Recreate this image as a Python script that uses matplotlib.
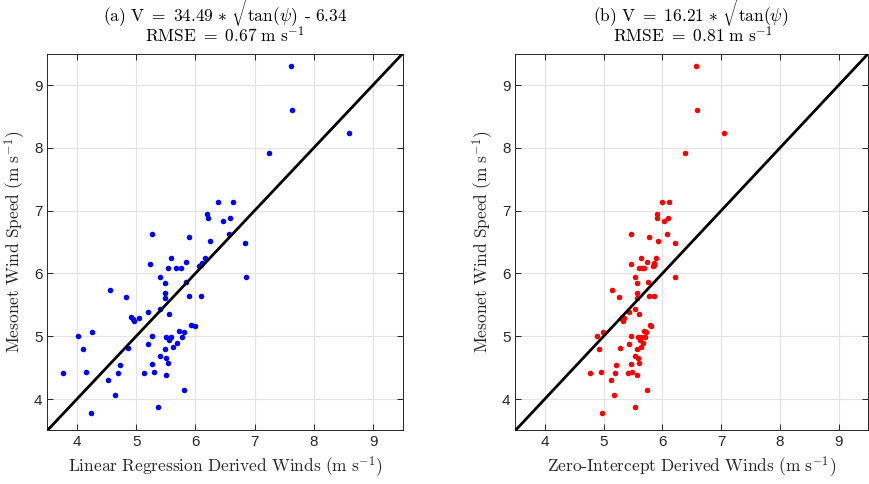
import matplotlib
matplotlib.use("Agg")
import matplotlib.pyplot as plt

plt.rcParams["mathtext.fontset"] = "cm"
plt.rcParams["font.family"] = ["Liberation Sans", "DejaVu Sans"]

# Mesonet observed wind speed (m/s), shared by both panels
mesonet = [4.41, 5.01, 4.80, 4.43, 5.07, 3.77, 4.30, 4.07, 4.42, 4.54,
           4.82, 5.74, 5.62, 5.31, 5.28, 5.24, 5.29, 4.41, 5.39, 4.88,
           5.01, 6.62, 6.15, 4.56, 4.43, 5.94, 5.44, 4.68, 5.84, 5.69,
           5.61, 4.80, 4.39, 4.65, 4.58, 4.98, 5.35, 6.08, 4.94, 4.98,
           6.25, 4.83, 3.87, 6.09, 6.09, 4.90, 5.09, 4.99, 5.06, 4.15,
           6.18, 5.87, 5.64, 6.58, 5.18, 5.17, 6.12, 6.14, 6.16, 5.64,
           6.25, 6.95, 6.88, 6.51, 7.13, 6.84, 6.62, 6.89, 7.13, 6.48,
           5.94, 7.91, 9.30, 8.61, 8.24]

# (a) linear regression derived winds
linreg = [3.76, 4.02, 4.11, 4.15, 4.26, 4.23, 4.52, 4.64, 4.69, 4.73,
          4.86, 4.56, 4.83, 4.91, 4.95, 4.96, 5.05, 5.13, 5.20, 5.20,
          5.26, 5.27, 5.24, 5.27, 5.30, 5.40, 5.40, 5.41, 5.48, 5.48,
          5.49, 5.48, 5.50, 5.51, 5.54, 5.50, 5.55, 5.53, 5.56, 5.59,
          5.59, 5.62, 5.37, 5.67, 5.75, 5.69, 5.72, 5.77, 5.80, 5.81,
          5.84, 5.85, 5.90, 5.90, 5.93, 5.99, 6.06, 6.09, 6.12, 6.09,
          6.16, 6.19, 6.21, 6.24, 6.38, 6.47, 6.56, 6.59, 6.64, 6.84,
          6.85, 7.24, 7.61, 7.63, 8.60]

# (b) zero-intercept derived winds
zeroint = [4.77, 4.88, 4.92, 4.95, 4.99, 4.98, 5.12, 5.17, 5.20, 5.21,
           5.28, 5.14, 5.27, 5.31, 5.32, 5.33, 5.35, 5.41, 5.43, 5.43,
           5.46, 5.47, 5.46, 5.47, 5.49, 5.53, 5.53, 5.54, 5.57, 5.57,
           5.57, 5.57, 5.57, 5.58, 5.60, 5.58, 5.60, 5.60, 5.62, 5.63,
           5.63, 5.64, 5.53, 5.66, 5.69, 5.67, 5.68, 5.71, 5.72, 5.73,
           5.74, 5.75, 5.77, 5.77, 5.79, 5.81, 5.84, 5.85, 5.86, 5.85,
           5.89, 5.90, 5.91, 5.93, 5.99, 6.03, 6.07, 6.10, 6.12, 6.21,
           6.21, 6.39, 6.57, 6.58, 7.05]

lims = [3.5, 9.5]
ticks = [4, 5, 6, 7, 8, 9]

panels = [
    (linreg, "blue",
     r"$\mathrm{(a)\ V\ =\ 34.49\ \text{*}\ }\sqrt{\tan(\psi)}\mathrm{\ \text{-}\ 6.34}$",
     r"$\mathrm{RMSE\ =\ 0.67\ m\ s^{-1}}$",
     r"$\mathrm{Linear\ Regression\ Derived\ Winds\ (m\ s^{-1})}$"),
    (zeroint, "red",
     r"$\mathrm{(b)\ V\ =\ 16.21\ \text{*}\ }\sqrt{\tan(\psi)}$",
     r"$\mathrm{RMSE\ =\ 0.81\ m\ s^{-1}}$",
     r"$\mathrm{Zero\text{-}Intercept\ Derived\ Winds\ (m\ s^{-1})}$"),
]

fig = plt.figure(figsize=(8.69, 4.84), dpi=100)
positions = [[0.0545, 0.1107, 0.4088, 0.7785],
             [0.5931, 0.1107, 0.4060, 0.7785]]

for pos, (xs, col, t1, t2, xlab) in zip(positions, panels):
    ax = fig.add_axes(pos)
    ax.grid(True, color="#e3e3e3", linewidth=0.8, zorder=0)
    ax.set_axisbelow(True)
    ax.plot(xs, mesonet, "o", color=col, markersize=4, markeredgewidth=0,
            zorder=3)
    ax.plot(lims, lims, color="black", linewidth=2, zorder=4)
    ax.set_xlim(lims)
    ax.set_ylim(lims)
    ax.set_xticks(ticks)
    ax.set_yticks(ticks)
    ax.tick_params(direction="in", top=True, right=True, length=4,
                   width=0.7, labelsize=11, colors="#262626")
    for s in ax.spines.values():
        s.set_color("#262626")
        s.set_linewidth(0.7)
    # two-line title, centred over the axes
    cx = pos[0] + 0.4088 / 2
    fig.text(cx, 1 - 22 / 484, t1, fontsize=12.5, ha="center", va="baseline")
    fig.text(cx, 1 - 42 / 484, t2, fontsize=12.5, ha="center", va="baseline")
    ax.set_xlabel(xlab, fontsize=12.5, color="#262626")
    ax.set_ylabel(r"$\mathrm{Mesonet\ Wind\ Speed\ (m\ s^{-1})}$",
                  fontsize=12.5, color="#262626")

fig.savefig("out.png", dpi=100)
